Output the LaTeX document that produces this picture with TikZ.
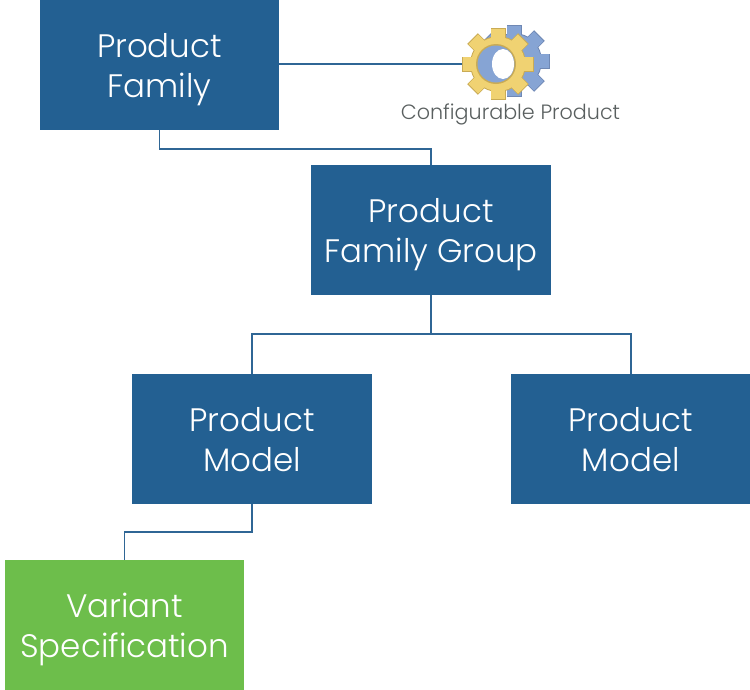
\documentclass[tikz,border=0pt]{standalone}
\usepackage{fontspec}
\setmainfont{Poppins}[UprightFont=* Light]
\usepackage{tikz}
\usetikzlibrary{positioning,calc}

\definecolor{boxblue}{HTML}{236092}
\definecolor{boxgreen}{HTML}{6DBE4B}
\definecolor{linkblue}{HTML}{2F6695}
\definecolor{capgray}{HTML}{595F5F}
\definecolor{cogyellow}{HTML}{F0D272}
\definecolor{cogedge}{HTML}{C9AB55}
\definecolor{cogblue}{HTML}{86A4D4}
\definecolor{cogblueedge}{HTML}{6F88B4}

% one cog: centre, radius, fill, edge
\newcommand{\cogwheel}[4]{
    \foreach \a in {0,45,...,315}
        \draw[#4,line width=15pt,line join=round] (#1) ++(\a:#2-20pt) -- ++(\a:20pt);
    \fill[#4] (#1) circle (#2-8pt);
    \foreach \a in {0,45,...,315}
        \draw[#3,line width=13.5pt] (#1) ++(\a:#2-20pt) -- ++(\a:19pt);
    \fill[#3] (#1) circle (#2-9pt);
}

\begin{document}
\begin{tikzpicture}[
    x=1pt,y=1pt,
    block/.style={rectangle,minimum width=239.6pt,minimum height=130pt,inner sep=0pt,outer sep=0pt,
        text height=64pt,text depth=0pt,
        align=center,text=white,font=\fontsize{32.5}{40}\selectfont},
    bluebox/.style={block,fill=boxblue},
    greenbox/.style={block,fill=boxgreen},
    link/.style={draw=linkblue,line width=1.3pt}
]
    \useasboundingbox (0,0) rectangle (750,-689);

    % Nodes
    \node[bluebox] (family) at (159.5,-65) {Product\\Family};
    \node[bluebox] (group) [below right=35pt and 32pt of family] {Product\\Family Group};
    \node[bluebox] (modela) [below=79pt of group,xshift=-179pt] {Product\\Model};
    \node[bluebox] (modelb) [below=79pt of group,xshift=199.8pt] {Product\\Model};
    \node[greenbox] (variant) [below=56pt of modela,xshift=-127.5pt] {Variant\\Specification};

    % Gear
    \coordinate (cog) at (498,-64);
    \coordinate (cogback) at (514,-61);
    \coordinate (cogleft) at (462,-64);
    \cogwheel{cogback}{36pt}{cogblue}{cogblueedge}
    \cogwheel{cog}{36pt}{cogyellow}{cogedge}
    \fill[cogedge] ($(cog)+(-2,0)$) circle (20pt);
    \fill[cogblue] ($(cog)+(-2,0)$) circle (18.5pt);
    \fill[white] ($(cog)+(5,0)$) ellipse (11pt and 15pt);
    \node[text=capgray,font=\fontsize{20.7}{24}\selectfont,inner sep=0pt] (cap) at (510.5,-114) {Configurable Product};

    % Edges
    \draw[link] (family.east |- cogleft) -- (cogleft);
    \draw[link] (family.south) -- ++(0,-19) -| (group.north);
    \draw[link] (group.south) -- ++(0,-39) -| (modela.north);
    \draw[link] (group.south) -- ++(0,-39) -| (modelb.north);
    \draw[link] (modela.south) -- ++(0,-28) -| (variant.north);
\end{tikzpicture}
\end{document}
